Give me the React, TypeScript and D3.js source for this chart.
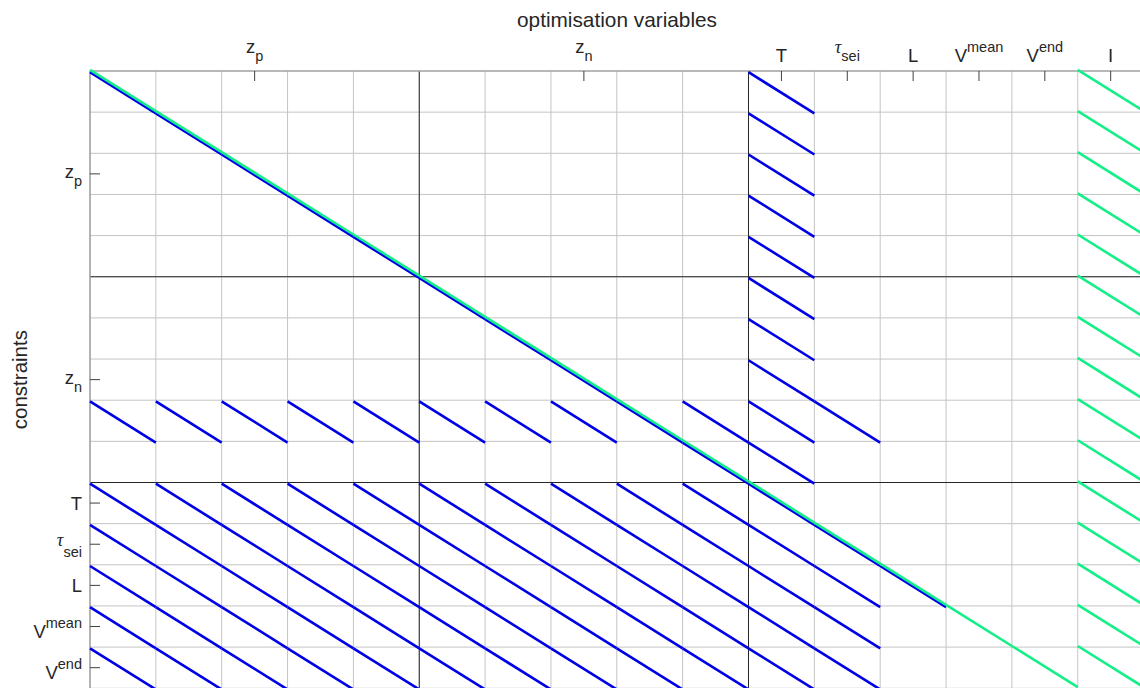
import React from "react";
import * as d3 from "d3";

// ---- data ----
const colGroupNames = ["z_p", "z_n", "T", "tau_sei", "L", "V_mean", "V_end", "I"];
const colGroupSizes = [5, 5, 1, 1, 1, 1, 1, 1];
const rowGroupNames = ["z_p", "z_n", "T", "tau_sei", "L", "V_mean", "V_end"];
const rowGroupSizes = [5, 5, 1, 1, 1, 1, 1];

// blue sparsity pattern: nonzero column indices for each constraint row
const blueNonzeros: number[][] = [
  [0, 10],
  [1, 10],
  [2, 10],
  [3, 10],
  [4, 10],
  [5, 10],
  [6, 10],
  [7, 10],
  [0, 1, 2, 3, 4, 5, 6, 7, 8, 9, 10, 11],
  [9, 10],
  [0, 1, 2, 3, 4, 5, 6, 7, 8, 9, 10],
  [0, 1, 2, 3, 4, 5, 6, 7, 8, 9, 10, 11],
  [0, 1, 2, 3, 4, 5, 6, 7, 8, 9, 10, 11, 12],
  [0, 1, 2, 3, 4, 5, 6, 7, 8, 9, 10, 11],
  [0, 1, 2, 3, 4, 5, 6, 7, 8, 9, 10, 11],
];
// green pattern: nonzero column indices for each constraint row
const greenNonzeros: number[][] = [
  [0, 15],
  [1, 15],
  [2, 15],
  [3, 15],
  [4, 15],
  [5, 15],
  [6, 15],
  [7, 15],
  [8, 15],
  [9, 15],
  [10, 15],
  [11, 15],
  [12, 15],
  [13, 15],
  [14, 15],
];

const title = "optimisation variables";
const yTitle = "constraints";

type Lab = { base: string; sub?: string; sup?: string; greek?: boolean };
const labelSpec: Record<string, Lab> = {
  z_p: { base: "z", sub: "p" },
  z_n: { base: "z", sub: "n" },
  T: { base: "T" },
  tau_sei: { base: "τ", sub: "sei", greek: true },
  L: { base: "L" },
  V_mean: { base: "V", sup: "mean" },
  V_end: { base: "V", sup: "end" },
  I: { base: "I" },
};

// ---- layout ----
const W = 1140;
const H = 688;
const left = 90;
const top = 71;
const cw = 65.85;
const rh = 41.15;
const FONT = "'Liberation Sans', Arial, Helvetica, sans-serif";
const MAIN = 18.5;
const SMALL = 14.5;
const BLUE = "#0000e6";
const GREEN = "#14ef88";

export default function App() {
  const nCols = d3.sum(colGroupSizes);
  const nRows = d3.sum(rowGroupSizes);
  const x = d3.scaleLinear().domain([0, nCols]).range([left, left + nCols * cw]);
  const y = d3.scaleLinear().domain([0, nRows]).range([top, top + nRows * rh]);

  const colStarts = d3.cumsum([0, ...colGroupSizes]);
  const rowStarts = d3.cumsum([0, ...rowGroupSizes]);
  const colCenters = colGroupSizes.map((s, i) => colStarts[i] + s / 2);
  const rowCenters = rowGroupSizes.map((s, i) => rowStarts[i] + s / 2);
  const colBlockEdges = [5, 10];
  const rowBlockEdges = [5, 10];

  const seg = d3.line<[number, number]>();

  const blueSegs: string[] = [];
  blueNonzeros.forEach((cols, r) =>
    cols.forEach((c) => {
      blueSegs.push(
        seg([
          [x(c), y(r) + 1.2],
          [x(c + 1), y(r + 1) + 1.2],
        ]) as string
      );
    })
  );
  const greenSegs: string[] = [];
  greenNonzeros.forEach((cols, r) =>
    cols.forEach((c) => {
      greenSegs.push(
        seg([
          [x(c), y(r) - 1.1],
          [x(c + 1), y(r + 1) - 1.1],
        ]) as string
      );
    })
  );

  const renderTop = (name: string, cx: number, i: number) => {
    const l = labelSpec[name];
    const baseFont = l.greek ? "'Liberation Serif', 'DejaVu Serif', serif" : FONT;
    const baseStyle = l.greek ? "italic" : "normal";
    if (l.sub) {
      return (
        <text key={i} x={cx} y={53} textAnchor="middle" fontFamily={FONT} fontSize={MAIN} fill="#262626">
          <tspan fontFamily={baseFont} fontStyle={baseStyle}>{l.base}</tspan>
          <tspan fontSize={SMALL} dy={8}>{l.sub}</tspan>
        </text>
      );
    }
    if (l.sup) {
      return (
        <text key={i} x={cx} y={61.7} textAnchor="middle" fontFamily={FONT} fontSize={MAIN} fill="#262626">
          <tspan>{l.base}</tspan>
          <tspan fontSize={SMALL} dy={-9.5}>{l.sup}</tspan>
        </text>
      );
    }
    return (
      <text key={i} x={cx} y={61.7} textAnchor="middle" fontFamily={FONT} fontSize={MAIN} fill="#262626">
        {l.base}
      </text>
    );
  };

  const renderLeft = (name: string, cy: number, i: number) => {
    const l = labelSpec[name];
    const baseFont = l.greek ? "'Liberation Serif', 'DejaVu Serif', serif" : FONT;
    const baseStyle = l.greek ? "italic" : "normal";
    const lx = 82;
    if (l.sub) {
      const b = l.greek ? cy + 1.5 : cy + 4;
      return (
        <text key={i} x={lx} y={b} textAnchor="end" fontFamily={FONT} fontSize={MAIN} fill="#262626">
          <tspan fontFamily={baseFont} fontStyle={baseStyle}>{l.base}</tspan>
          <tspan fontSize={SMALL} dy={cy + 12.5 - b}>{l.sub}</tspan>
        </text>
      );
    }
    if (l.sup) {
      return (
        <text key={i} x={lx} y={cy + 11} textAnchor="end" fontFamily={FONT} fontSize={MAIN} fill="#262626">
          <tspan>{l.base}</tspan>
          <tspan fontSize={SMALL} dy={-10}>{l.sup}</tspan>
        </text>
      );
    }
    return (
      <text key={i} x={lx} y={cy + 6.5} textAnchor="end" fontFamily={FONT} fontSize={MAIN} fill="#262626">
        {l.base}
      </text>
    );
  };

  return (
    <svg
      width={W}
      height={H}
      style={{ position: "absolute", left: 0, top: 0, background: "#fff", overflow: "hidden" }}
    >
      <rect x={0} y={0} width={W} height={H} fill="#fff" />
      {/* grid */}
      {d3.range(1, nCols + 1).map((c) => (
        <line key={"gc" + c} x1={x(c)} x2={x(c)} y1={y(0)} y2={y(nRows)} stroke="#c4c4c4" strokeWidth={1} />
      ))}
      {d3.range(1, nRows + 1).map((r) => (
        <line key={"gr" + r} x1={x(0)} x2={x(nCols)} y1={y(r)} y2={y(r)} stroke="#c4c4c4" strokeWidth={1} />
      ))}
      {/* block separators */}
      {colBlockEdges.map((c) => (
        <line key={"bc" + c} x1={x(c)} x2={x(c)} y1={y(0)} y2={y(nRows)} stroke="#262626" strokeWidth={1} />
      ))}
      {rowBlockEdges.map((r) => (
        <line key={"br" + r} x1={x(0)} x2={x(nCols)} y1={y(r)} y2={y(r)} stroke="#262626" strokeWidth={1} />
      ))}
      {/* axes borders */}
      <line x1={x(0)} x2={x(nCols)} y1={y(0)} y2={y(0)} stroke="#a0a0a0" strokeWidth={1.6} />
      <line x1={x(0)} x2={x(0)} y1={y(0)} y2={y(nRows)} stroke="#a0a0a0" strokeWidth={1.6} />
      {/* ticks */}
      {colCenters.map((c, i) => (
        <line key={"tc" + i} x1={x(c)} x2={x(c)} y1={y(0)} y2={y(0) + 10} stroke="#404040" strokeWidth={1} />
      ))}
      {rowCenters.map((r, i) => (
        <line key={"tr" + i} x1={x(0)} x2={x(0) + 10} y1={y(r)} y2={y(r)} stroke="#404040" strokeWidth={1} />
      ))}
      {/* marks */}
      <g fill="none" stroke={BLUE} strokeWidth={2.6}>
        {blueSegs.map((d, i) => (
          <path key={"b" + i} d={d} />
        ))}
      </g>
      <g fill="none" stroke={GREEN} strokeWidth={2.6}>
        {greenSegs.map((d, i) => (
          <path key={"g" + i} d={d} />
        ))}
      </g>
      {/* labels */}
      {colGroupNames.map((n, i) => renderTop(n, x(colCenters[i]), i))}
      {rowGroupNames.map((n, i) => renderLeft(n, y(rowCenters[i]), i))}
      <text x={617} y={26.7} textAnchor="middle" fontFamily={FONT} fontSize={20.8} fill="#262626">
        {title}
      </text>
      <text
        transform={`translate(27,${y(nRows / 2)}) rotate(-90)`}
        textAnchor="middle"
        fontFamily={FONT}
        fontSize={20.5}
        fill="#262626"
      >
        {yTitle}
      </text>
    </svg>
  );
}
